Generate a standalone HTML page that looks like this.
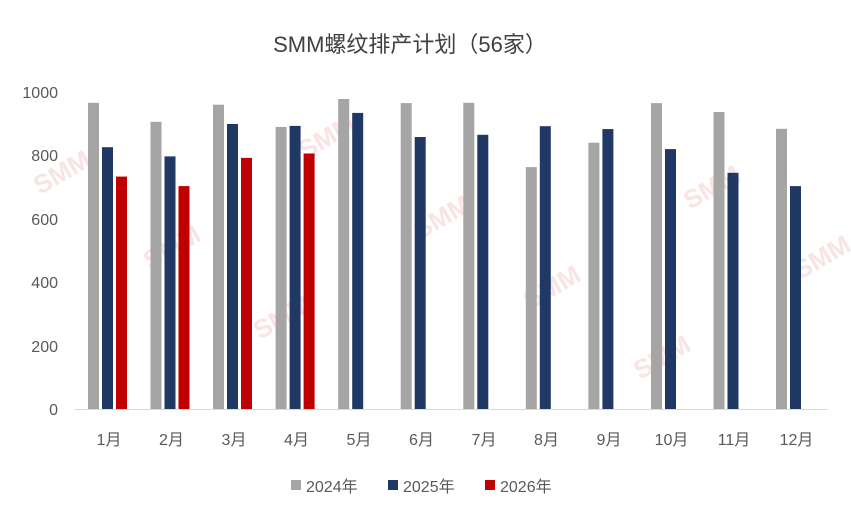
<!DOCTYPE html>
<html><head><meta charset="utf-8"><style>
body{margin:0;background:#fff;}
svg text{font-family:"Liberation Sans","Noto Sans CJK SC",sans-serif;}
</style></head><body>
<svg width="851" height="519" xmlns="http://www.w3.org/2000/svg">
<rect width="851" height="519" fill="#fff"/>
<text x="410" y="52" font-size="22" fill="#404040" text-anchor="middle">SMM螺纹排产计划（56家）</text>
<g font-size="16" fill="#595959" text-anchor="end">
<text x="58" y="415">0</text><text x="58" y="352">200</text><text x="58" y="288">400</text>
<text x="58" y="225">600</text><text x="58" y="161">800</text><text x="58" y="98">1000</text>
</g>
<g fill="#f3b8b8" opacity="0.4" font-size="26" font-weight="bold">
<text transform="translate(40,195) rotate(-30)">SMM</text>
<text transform="translate(150,270) rotate(-30)">SMM</text>
<text transform="translate(260,340) rotate(-30)">SMM</text>
<text transform="translate(305,160) rotate(-30)">SMM</text>
<text transform="translate(420,240) rotate(-30)">SMM</text>
<text transform="translate(530,310) rotate(-30)">SMM</text>
<text transform="translate(640,380) rotate(-30)">SMM</text>
<text transform="translate(690,210) rotate(-30)">SMM</text>
<text transform="translate(800,280) rotate(-30)">SMM</text>
</g>
<line x1="75" y1="409.5" x2="828" y2="409.5" stroke="#d9d9d9" stroke-width="1"/>
<g fill="#a5a5a5">
<rect x="88" y="102.8" width="11" height="306.2"/>
<rect x="150.5" y="121.8" width="11" height="287.2"/>
<rect x="213" y="104.7" width="11" height="304.3"/>
<rect x="275.6" y="126.9" width="11" height="282.1"/>
<rect x="338.2" y="99" width="11" height="310"/>
<rect x="400.7" y="103.1" width="11" height="305.9"/>
<rect x="463.3" y="102.8" width="11" height="306.2"/>
<rect x="525.8" y="167.1" width="11" height="241.9"/>
<rect x="588.4" y="142.7" width="11" height="266.3"/>
<rect x="651" y="103.1" width="11" height="305.9"/>
<rect x="713.5" y="112" width="11" height="297"/>
<rect x="776" y="128.8" width="11" height="280.2"/>
</g>
<g fill="#1f3864">
<rect x="102" y="147.2" width="11" height="261.8"/>
<rect x="164.5" y="156.4" width="11" height="252.6"/>
<rect x="227" y="124" width="11" height="285"/>
<rect x="289.6" y="125.9" width="11" height="283.1"/>
<rect x="352.2" y="112.9" width="11" height="296.1"/>
<rect x="414.7" y="137" width="11" height="272"/>
<rect x="477.3" y="134.8" width="11" height="274.2"/>
<rect x="539.8" y="126.2" width="11" height="282.8"/>
<rect x="602.4" y="129.1" width="11" height="279.9"/>
<rect x="665" y="149.1" width="11" height="259.9"/>
<rect x="727.5" y="172.8" width="11" height="236.2"/>
<rect x="790" y="186.1" width="11" height="222.9"/>
</g>
<g fill="#c00000">
<rect x="116" y="176.6" width="11" height="232.4"/>
<rect x="178.5" y="186.1" width="11" height="222.9"/>
<rect x="241" y="157.9" width="11" height="251.1"/>
<rect x="303.6" y="153.5" width="11" height="255.5"/>
</g>
<g font-size="16" fill="#595959" text-anchor="middle">
<text x="109" y="445">1月</text><text x="171.5" y="445">2月</text><text x="234" y="445">3月</text>
<text x="296.5" y="445">4月</text><text x="359" y="445">5月</text><text x="421.5" y="445">6月</text>
<text x="484" y="445">7月</text><text x="546.5" y="445">8月</text><text x="609" y="445">9月</text>
<text x="671.5" y="445">10月</text><text x="734" y="445">11月</text><text x="796.5" y="445">12月</text>
</g>
<g font-size="16" fill="#595959">
<rect x="291" y="480" width="10" height="10" fill="#a5a5a5"/><text x="306" y="492">2024年</text>
<rect x="388" y="480" width="10" height="10" fill="#1f3864"/><text x="403" y="492">2025年</text>
<rect x="485" y="480" width="10" height="10" fill="#c00000"/><text x="500" y="492">2026年</text>
</g>
</svg>
</body></html>
